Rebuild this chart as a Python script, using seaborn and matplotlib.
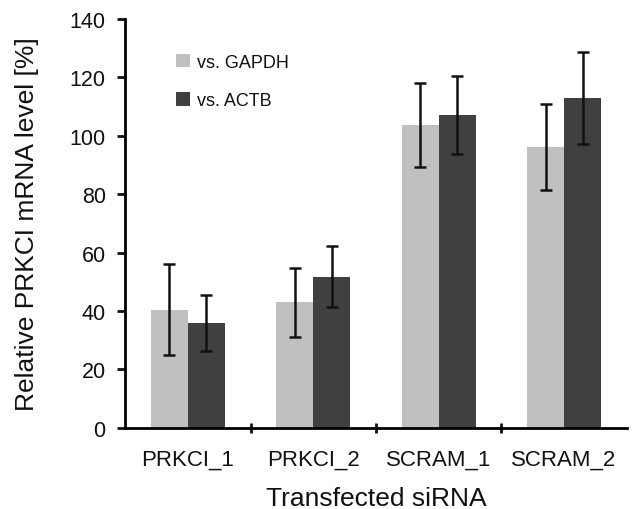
import matplotlib
matplotlib.use("Agg")
import matplotlib.pyplot as plt
import seaborn as sns
import pandas as pd

# values
sirnas = ["PRKCI_1", "PRKCI_2", "SCRAM_1", "SCRAM_2"]
gapdh_mean = [40.5, 43.0, 103.6, 96.2]
gapdh_err = [15.6, 11.8, 14.3, 14.8]
actb_mean = [36.0, 51.8, 107.1, 112.9]
actb_err = [9.6, 10.3, 13.4, 15.6]
references = ["vs. GAPDH", "vs. ACTB"]

df = pd.DataFrame({
    "siRNA": sirnas * 2,
    "ref": [references[0]] * 4 + [references[1]] * 4,
    "value": gapdh_mean + actb_mean,
    "err": gapdh_err + actb_err,
})

sns.set_style("white")
plt.rcParams["font.family"] = ["Liberation Sans", "DejaVu Sans"]
plt.rcParams["text.color"] = "#111111"
plt.rcParams["axes.labelcolor"] = "#111111"
plt.rcParams["xtick.color"] = "#111111"
plt.rcParams["ytick.color"] = "#111111"

fig = plt.figure(figsize=(6.35, 5.1), dpi=100)
ax = fig.add_axes([0.197, 0.159, 0.79, 0.802])

sns.barplot(data=df, x="siRNA", y="value", hue="ref", order=sirnas,
            hue_order=references, palette=["#c0c0c0", "#404040"],
            width=0.59, errorbar=None, saturation=1, linewidth=0, ax=ax)

# error bars on top of the bars seaborn drew
bars = [p for p in ax.patches if p.get_height() > 0][:len(df)]
for patch, err in zip(bars, df["err"]):
    xc = patch.get_x() + patch.get_width() / 2
    ax.errorbar(xc, patch.get_height(), yerr=err, fmt="none", ecolor="#111111",
                elinewidth=1.8, capsize=4, capthick=1.8)

ax.set_ylim(0, 140)
ax.set_yticks(range(0, 141, 20))
ax.set_xlim(-0.5, 3.5)
ax.set_xticks([0, 1, 2, 3])
ax.set_xticks([0.5, 1.5, 2.5], minor=True)
ax.tick_params(axis="x", which="major", length=0, labelsize=16, pad=15)
ax.tick_params(axis="x", which="minor", direction="inout", length=7, width=2, bottom=True)
ax.tick_params(axis="y", direction="out", length=6, width=2, left=True, labelsize=15.5, pad=8)

ax.set_xlabel("Transfected siRNA", fontsize=19, labelpad=12)
ax.set_ylabel("Relative PRKCI mRNA level [%]", fontsize=19, labelpad=22)

for side in ["top", "right"]:
    ax.spines[side].set_visible(False)
for side in ["left", "bottom"]:
    ax.spines[side].set_linewidth(2)
    ax.spines[side].set_color("black")

ax.legend(loc="upper left", bbox_to_anchor=(0.07, 0.955), frameon=False,
          fontsize=13, handlelength=0.75, handleheight=0.75, labelspacing=1.2,
          handletextpad=0.4)

fig.savefig("out.png", dpi=100)
